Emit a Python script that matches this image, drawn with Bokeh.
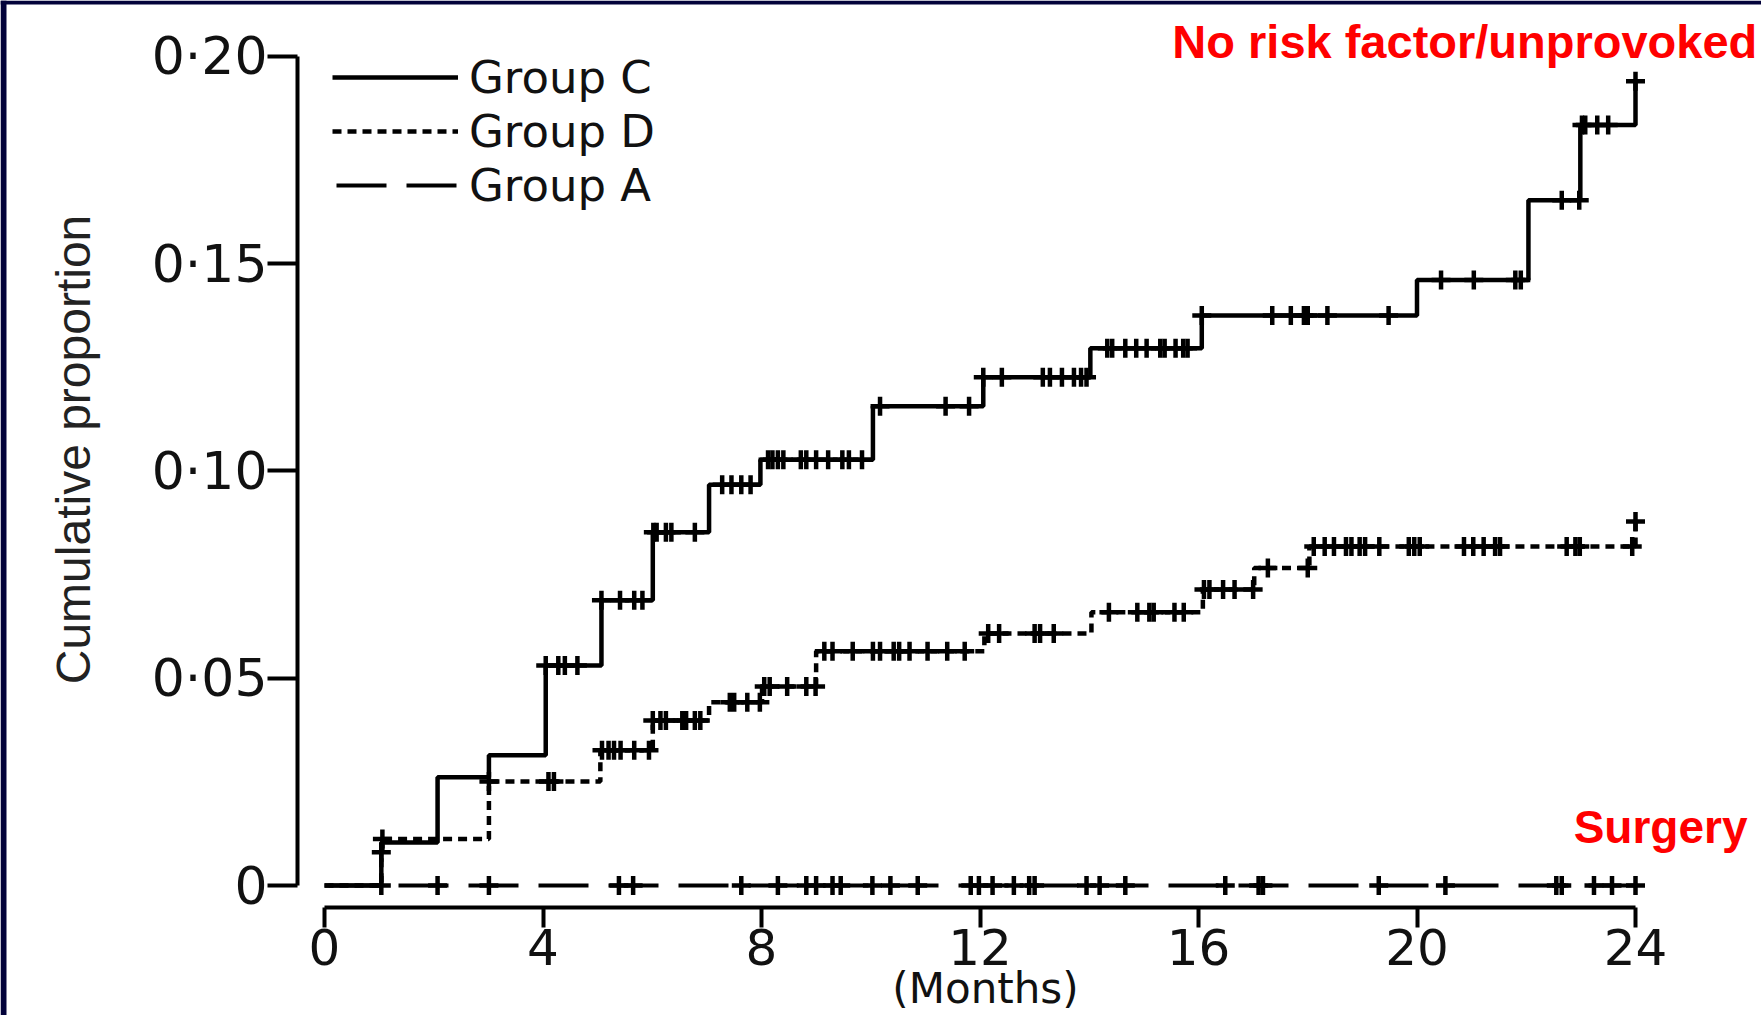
import numpy as np
from bokeh.plotting import figure
from bokeh.models import Range1d, FixedTicker, Label, Legend, LegendItem, BoxAnnotation
from bokeh.embed import file_html
from bokeh.resources import INLINE

# ---------------- data ----------------
x_ticks = [0, 4, 8, 12, 16, 20, 24]
y_ticks = [0, 0.05, 0.10, 0.15, 0.20]
y_tick_labels = ["0", "0\u00b705", "0\u00b710", "0\u00b715", "0\u00b720"]

# Group C (solid): step times (months) and cumulative proportion after each step
c_times = [0, 1.04, 2.07, 3.01, 4.05, 5.07, 6.01, 7.04, 7.98, 10.04, 12.06, 14.02,
           16.06, 20.0, 22.04, 22.99, 24.0]
c_cum = [0, 0.0104, 0.0261, 0.0314, 0.0531, 0.0688, 0.0852, 0.0967, 0.1027, 0.1156,
         0.1226, 0.1296, 0.1375, 0.1461, 0.1653, 0.1835, 0.194]
c_censor = [4.05, 4.28, 4.4, 4.63,
            5.07, 5.41, 5.67, 5.82,
            6.02, 6.08, 6.25, 6.35, 6.78,
            7.28, 7.45, 7.63, 7.8,
            8.12, 8.2, 8.3, 8.4, 8.72, 8.82, 9.0, 9.22, 9.48, 9.6, 9.84,
            10.17, 11.37, 11.8,
            12.06, 12.4, 13.15, 13.28, 13.5, 13.72, 13.85, 13.95,
            14.33, 14.42, 14.66, 14.86, 15.05, 15.3, 15.38, 15.58, 15.72, 15.8,
            16.06, 17.35, 17.69, 17.93, 18.0, 18.36, 19.48,
            20.44, 21.04, 21.8, 21.9,
            22.65, 22.97,
            23.02, 23.08, 23.3, 23.5,
            24.0]

# Group D (dotted)
d_times = [0, 1.04, 1.06, 3.01, 5.05, 6.01, 7.04, 8.01, 9.0, 12.08, 14.04, 16.08,
           17.02, 18.03, 24.0]
d_cum = [0, 0.008, 0.0112, 0.0251, 0.0326, 0.0398, 0.0442, 0.048, 0.0565, 0.0608,
         0.0659, 0.0714, 0.0766, 0.0818, 0.0878]
d_censor = [1.04, 1.06, 3.01, 4.1, 4.2,
            5.08, 5.2, 5.3, 5.42, 5.67, 5.94,
            6.01, 6.15, 6.25, 6.55, 6.62, 6.78, 6.88,
            7.42, 7.5, 7.74, 7.97,
            8.05, 8.15, 8.47, 8.82, 8.99,
            9.15, 9.3, 9.67, 10.04, 10.17, 10.42, 10.52, 10.71, 11.04, 11.4, 11.72,
            12.15, 12.35, 13.0, 13.1, 13.35,
            14.36, 14.88, 15.1, 15.18, 15.56, 15.73,
            16.1, 16.2, 16.45, 16.66, 17.0,
            17.27, 18.0,
            18.11, 18.31, 18.48, 18.7, 18.8, 18.95, 19.05, 19.31, 19.85, 19.95, 20.05,
            20.86, 21.03, 21.22, 21.43, 21.52, 22.74, 22.9, 22.98, 23.94,
            24.0]

# Group A (long dash): no events
a_times = [0, 24.0]
a_cum = [0, 0]
a_censor = [1.04, 2.07, 3.01, 5.39, 5.65, 7.63, 8.3, 8.82, 9.0, 9.3, 9.45, 10.03,
            10.36, 10.86, 11.83, 11.98, 12.23, 12.62, 12.9, 13.0, 13.95, 14.19, 14.66,
            16.49, 17.1, 17.18, 19.3, 20.52, 22.55, 22.65, 23.24, 23.57, 24.0]


def level_at(times, cum, t):
    idx = np.searchsorted(np.array(times), np.array(t), side="right") - 1
    return list(np.array(cum)[idx])


# ---------------- figure ----------------
TXT = "#111111"
NAVY = "#02023a"
X0, X1 = -5.9314, 26.3066
Y0, Y1 = -0.031363, 0.213510
p = figure(width=1761, height=1015, output_backend="svg", toolbar_location=None,
           x_range=Range1d(X0, X1), y_range=Range1d(Y0, Y1),
           min_border_left=0, min_border_right=0, min_border_top=0,
           min_border_bottom=0)
p.outline_line_color = None
p.grid.visible = False
p.background_fill_color = "white"
p.border_fill_color = "white"

# thin navy slide frame along the top and left edges
p.add_layout(BoxAnnotation(left=X0, right=X1, bottom=0.212545, top=Y1,
                           fill_color=NAVY, fill_alpha=1, line_color=None,
                           line_alpha=0))
p.add_layout(BoxAnnotation(left=X0, right=-5.8215, bottom=Y0, top=Y1,
                           fill_color=NAVY, fill_alpha=1, line_color=None,
                           line_alpha=0))

LW = 4.5
rC = p.step(c_times, c_cum, mode="after", line_width=LW, line_color="black")
rD = p.step(d_times, d_cum, mode="after", line_width=LW, line_color="black",
            line_dash="9 6")
rA = p.line(a_times, a_cum, line_width=4, line_color="black",
            line_dash="50 20", line_dash_offset=66)

for times, cum, cens in ((c_times, c_cum, c_censor), (d_times, d_cum, d_censor),
                         (a_times, a_cum, a_censor)):
    p.scatter(cens, level_at(times, cum, cens), marker="cross", size=19,
              line_width=4.5, line_color="black")

# axes (detached, drawn at fixed positions just outside the data area)
for ax in (p.xaxis[0], p.yaxis[0]):
    ax.axis_line_width = 4
    ax.major_tick_line_width = 4
    ax.major_tick_in = 0
    ax.minor_tick_line_color = None
    ax.major_label_text_font = "DejaVu Sans"
    ax.major_label_text_color = TXT
    ax.major_label_text_font_style = "normal"

p.xaxis.fixed_location = -0.0053076
p.xaxis.ticker = FixedTicker(ticks=x_ticks)
p.xaxis.bounds = (0, 24)
p.xaxis.major_tick_out = 20
p.xaxis.major_label_standoff = 1
p.xaxis.major_label_text_font_size = "50px"

p.yaxis.fixed_location = -0.49428
p.yaxis.ticker = FixedTicker(ticks=y_ticks)
p.yaxis.bounds = (0, 0.2)
p.yaxis.major_tick_out = 30
p.yaxis.major_label_standoff = 0
p.yaxis.major_label_text_font_size = "52px"
p.yaxis.major_label_overrides = {t: s for t, s in zip(y_ticks, y_tick_labels)}

# y axis title (rotated)
p.add_layout(Label(x=-4.595, y=0.10519, text="Cumulative proportion", angle=np.pi / 2,
                   text_align="center", text_baseline="middle",
                   text_font="Liberation Sans", text_font_size="48px",
                   text_color="#222222"))

# x axis title
p.add_layout(Label(x=12.1, y=-0.024849, text="(Months)", text_align="center",
                   text_baseline="middle", text_font="DejaVu Sans",
                   text_font_size="42px", text_color=TXT))

# red annotations
p.add_layout(Label(x=26.23, y=0.20362, text="No risk factor/unprovoked",
                   text_align="right", text_baseline="middle",
                   text_font="Liberation Sans", text_font_style="bold",
                   text_font_size="47px", text_color="#ff0000"))
p.add_layout(Label(x=26.05, y=0.013993, text="Surgery",
                   text_align="right", text_baseline="middle",
                   text_font="Liberation Sans", text_font_style="bold",
                   text_font_size="46px", text_color="#ff0000"))

legend = Legend(items=[LegendItem(label="Group C", renderers=[rC]),
                       LegendItem(label="Group D", renderers=[rD]),
                       LegendItem(label="Group A", renderers=[rA])],
                location=(332, 803), orientation="vertical")
legend.border_line_color = None
legend.background_fill_alpha = 0
legend.padding = 0
legend.margin = 0
legend.spacing = 0
legend.glyph_width = 126
legend.glyph_height = 54
legend.label_height = 54
legend.label_standoff = 11
legend.label_text_font = "DejaVu Sans"
legend.label_text_font_size = "45px"
legend.label_text_color = TXT
legend.label_text_baseline = "middle"
p.add_layout(legend, "center")

open("out.html", "w").write(file_html(p, INLINE))
